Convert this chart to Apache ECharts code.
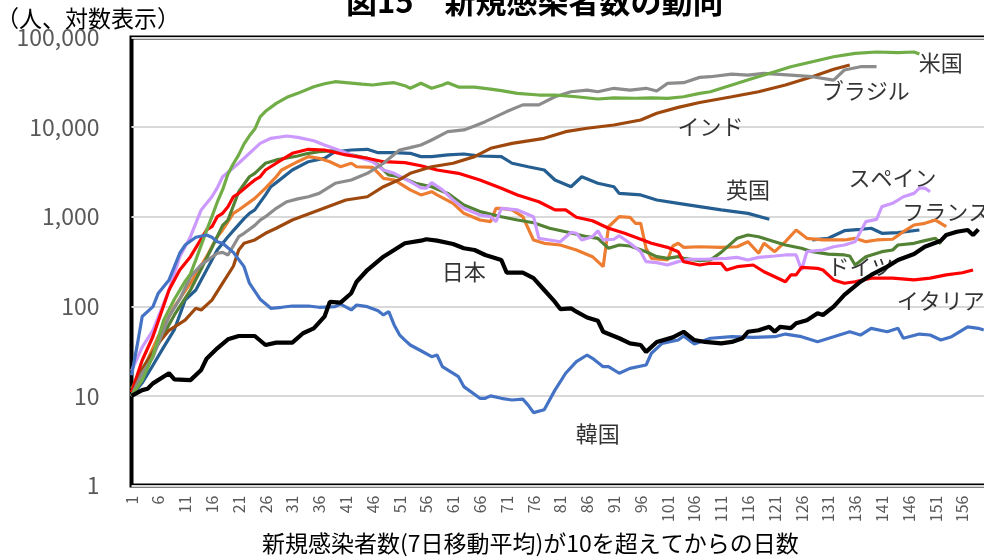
<!DOCTYPE html>
<html>
<head>
<meta charset="utf-8">
<title>新規感染者数の動向</title>
<style>
  html, body { margin: 0; padding: 0; background: #fff; }
  .main { width: 984px; height: 558px; }
</style>
</head>
<body>
<div class="main"></div>
<script src="https://cdn.jsdelivr.net/npm/echarts/dist/echarts.min.js"></script>
<script>
  // 横軸：新規感染者数(7日移動平均)が10を超えてからの日数
  var days = [];
  for (var i = 1; i <= 170; i++) days.push(String(i));
  var lastLabelDay = 156;

  // 縦軸の目盛（対数）
  var yTicks = [1, 10, 100, 1000, 10000, 100000];

  // [日数, 人]  グラフから読み取り
  var usa = [[1,10],[3,15],[5,28],[7,70],[9,120],[11,190],[12,230],[13,330],[15,700],[16,1000],[17,1450],[18,2000],[19,3000],[20,3900],[21,4900],[22,6500],[23,8000],[24,9500],[25,13000],[26,15000],[28,18400],[30,21500],[32,23800],[35,28200],[37,30500],[39,32100],[42,31000],[44,30200],[46,29500],[48,30500],[50,31300],[52,29000],[53,27100],[55,30800],[57,27100],[59,29500],[60,31300],[62,28000],[65,27900],[68,26500],[70,25500],[73,23800],[77,22800],[80,22800],[84,21800],[88,20600],[91,21200],[95,21000],[98,21200],[101,20900],[104,21800],[107,23800],[109,24800],[113,29500],[117,35100],[121,41500],[124,47200],[128,53700],[132,61000],[136,66600],[140,68900],[144,67900],[147,68900],[148,65500]];
  var brazil = [[1,10],[3,18],[5,27],[8,77],[10,120],[12,214],[14,290],[15,320],[17,391],[18,400],[19,374],[21,598],[22,653],[24,800],[25,918],[26,1000],[28,1240],[30,1470],[32,1580],[34,1670],[36,1820],[39,2360],[42,2570],[45,3050],[48,3950],[51,5550],[53,5900],[55,6310],[57,7180],[60,8890],[63,9290],[65,10300],[67,11500],[71,14900],[74,17700],[77,17700],[80,21800],[83,24800],[86,25900],[88,24800],[91,27100],[94,25900],[97,27100],[99,25300],[101,30800],[104,31300],[107,35900],[109,36500],[113,39100],[116,38100],[119,39800],[124,38100],[128,36500],[132,33500],[134,43400],[137,47200],[140,47200]];
  var india = [[1,10],[3,19.5],[6,38.6],[8,54],[11,70],[13,95],[14,91],[16,117],[18,181],[20,280],[21,425],[22,505],[24,550],[26,653],[28,743],[31,918],[36,1190],[41,1535],[45,1670],[48,2160],[51,2600],[53,3050],[55,3320],[57,3610],[61,3950],[65,4680],[68,5800],[72,6590],[78,7500],[82,8890],[86,9700],[91,10550],[96,12000],[99,14250],[103,16600],[107,18800],[113,21800],[118,24800],[123,29500],[128,36500],[132,44200],[135,49300]];
  var uk = [[1,10],[3,14],[5,22],[7,35],[9,55],[10,80],[11,117],[13,152],[15,254],[17,425],[19,598],[20,700],[22,950],[23,1090],[24,1190],[26,1750],[27,2160],[28,2400],[31,3320],[34,4110],[37,4490],[39,5310],[42,5550],[45,5650],[47,5180],[50,5180],[53,5100],[55,4680],[57,4680],[60,4890],[63,5010],[66,4760],[70,4680],[72,3950],[75,3610],[78,3320],[80,2570],[83,2160],[85,2790],[88,2360],[91,2160],[92,1820],[96,1750],[99,1535],[103,1410],[107,1295],[111,1190],[116,1090],[120,935],[124,'-'],[128,550],[131,574],[134,698],[137,723],[139,743],[141,653],[144,663],[148,711]];
  var spain = [[1,19],[3,35],[5,54],[8,152],[10,358],[12,598],[14,1190],[16,1670],[17,2100],[18,2790],[21,3950],[25,6590],[27,7500],[30,7960],[32,7690],[35,7050],[37,6310],[40,5450],[43,4680],[46,4110],[48,3320],[50,3050],[53,2460],[55,2100],[56,2080],[57,2400],[59,1990],[61,1535],[63,1240],[66,1045],[68,1000],[69,880],[70,1240],[73,1190],[76,1000],[77,574],[79,550],[81,525],[83,670],[84,653],[85,550],[87,598],[88,698],[89,550],[91,560],[92,614],[94,505],[96,407],[97,315],[99,307],[101,289],[103,315],[105,335],[108,335],[112,343],[114,352],[116,329],[118,352],[121,364],[123,374],[125,374],[126,254],[127,407],[130,425],[132,462],[134,483],[136,526],[138,880],[140,935],[141,1295],[143,1410],[145,1670],[147,1820],[148,2080],[149,2080],[150,1900]];
  var france = [[1,12],[2,14],[6,46],[9,99],[12,181],[15,358],[17,598],[18,711],[20,1090],[21,1190],[24,1600],[26,2080],[28,2790],[29,3320],[32,4110],[34,4680],[36,4490],[38,4110],[40,3610],[42,3950],[43,3610],[46,3560],[48,2680],[50,2570],[53,1990],[55,1750],[57,1900],[58,1750],[61,1410],[63,1090],[66,918],[68,880],[69,1240],[70,1240],[72,1190],[74,1000],[76,550],[78,505],[81,483],[84,425],[87,358],[89,277],[90,773],[92,1000],[94,985],[95,844],[96,844],[97,444],[98,343],[101,329],[102,471],[103,505],[104,455],[107,462],[111,455],[114,462],[116,526],[118,391],[119,505],[121,407],[123,526],[125,711],[127,574],[130,550],[134,550],[136,574],[138,526],[140,550],[143,560],[145,680],[147,808],[149,844],[151,918],[153,773]];
  var germany = [[1,12],[3,20],[6,38],[9,80],[12,152],[14,260],[16,450],[18,800],[19,918],[21,1900],[23,2790],[24,3050],[26,3950],[28,4300],[32,4760],[34,5100],[36,5310],[39,5450],[42,4890],[45,4490],[47,3780],[49,2920],[51,2800],[54,2360],[57,2160],[60,1820],[63,1350],[66,1140],[70,1000],[73,918],[76,857],[79,743],[82,680],[86,598],[88,574],[90,444],[92,483],[94,471],[97,407],[99,358],[101,343],[103,358],[104,343],[107,323],[109,329],[111,400],[113,510],[114,574],[116,625],[118,598],[121,526],[123,483],[126,444],[128,407],[131,383],[134,374],[135,364],[136,289],[138,358],[141,407],[143,425],[144,483],[147,505],[149,540],[151,574],[152,496]];
  var italy = [[1,11],[3,25],[5,46],[8,152],[10,254],[12,358],[15,711],[16,773],[17,1000],[18,1090],[19,1295],[20,1670],[21,1820],[23,2300],[24,2570],[25,2790],[26,3320],[28,3950],[29,4300],[31,5100],[34,5650],[37,5550],[41,4890],[45,4490],[48,4110],[52,4010],[55,3700],[58,3320],[62,3050],[66,2570],[70,2080],[73,1750],[77,1470],[80,1190],[82,1190],[84,985],[87,902],[90,743],[93,653],[96,560],[98,505],[101,455],[103,407],[104,315],[107,289],[109,302],[111,302],[112,254],[114,277],[117,289],[119,243],[121,214],[123,188],[124,224],[125,224],[126,272],[129,265],[130,254],[132,197],[134,181],[136,188],[139,206],[143,206],[147,197],[150,206],[153,224],[156,237],[158,254]];
  var japan = [[1,10],[3,11.6],[4,12],[5,13.8],[8,17.9],[9,15.3],[12,15],[14,19.5],[15,26],[17,34],[19,42.8],[21,46.6],[24,46.6],[26,37],[28,39.3],[31,39.3],[33,50],[35,56.8],[37,76.6],[38,112],[40,110],[42,140],[43,188],[45,254],[48,358],[50,425],[52,505],[55,540],[56,560],[58,540],[61,496],[63,444],[65,425],[67,374],[70,329],[71,237],[74,237],[76,206],[78,152],[80,112],[81,93],[83,95],[84,87],[86,75],[88,69],[89,52],[92,44],[94,38.6],[96,37],[97,31],[99,40],[102,45],[104,52],[106,42],[108,40],[111,38.6],[113,40],[115,44],[116,52],[118,54],[120,59],[121,52],[122,59],[124,57],[125,64.6],[127,70],[129,83.5],[130,80],[132,99],[134,134],[137,188],[139,224],[142,277],[144,329],[147,383],[149,462],[152,540],[153,625],[155,680],[157,711],[158,625],[159,723]];
  var korea = [[1,17],[2,35],[3,77],[5,99],[6,140],[8,197],[9,277],[10,391],[11,483],[13,590],[15,625],[16,589],[17,526],[18,505],[20,400],[22,277],[23,181],[25,120],[27,95],[29,97.5],[31,100.7],[34,100.7],[36,97.5],[39,99],[40,106],[42,91],[43,103.5],[45,99],[47,89],[48,80],[49,87],[50,62],[51,48],[52,42],[53,37],[55,31.9],[57,27.4],[58,28.6],[59,21.2],[62,16.4],[63,12.7],[66,9.4],[67,9.4],[68,10],[70,9.4],[72,9],[74,9.2],[75,7.9],[76,6.5],[78,7],[80,11.6],[82,17.9],[84,24.1],[86,28.6],[87,26.3],[89,21.2],[90,21.2],[92,17.9],[94,20.3],[97,22.1],[98,29.9],[100,38.6],[103,42],[104,46.6],[106,38],[109,44],[113,45.8],[117,45],[121,45.8],[123,49],[126,45.8],[129,40.3],[132,45.8],[135,52],[137,47.8],[139,56.8],[142,52],[144,56.8],[145,44],[148,49],[150,47.8],[152,42],[154,45.8],[157,59],[159,56.8],[160,54.4]];

  // 国名ラベルの位置 [日数, 人]
  var labelNames = ['米国', 'ブラジル', 'インド', '英国', 'スペイン', 'フランス', 'ドイツ', 'イタリア', '日本', '韓国'];
  var labelDays = [152, 138, 109, 116, 143, 153, 137, 152, 63, 88];
  var labelValues = [51900, 25300, 10100, 1990, 2740, 1130, 277, 117, 243, 3.8];

  var countries = [
    { name: '英国', data: uk, color: '#255E91', width: 3.2 },
    { name: 'フランス', data: france, color: '#ED7D31', width: 3.2 },
    { name: 'ドイツ', data: germany, color: '#548235', width: 3.2 },
    { name: 'スペイン', data: spain, color: '#CC99FF', width: 3.2 },
    { name: 'イタリア', data: italy, color: '#FF0000', width: 3.2 },
    { name: 'インド', data: india, color: '#9E480E', width: 3.2 },
    { name: 'ブラジル', data: brazil, color: '#8C8C8C', width: 3.2 },
    { name: '米国', data: usa, color: '#70AD47', width: 3.2 },
    { name: '韓国', data: korea, color: '#4472C4', width: 3.2 },
    { name: '日本', data: japan, color: '#000000', width: 4.2 }
  ];

  var jp = "'Noto Sans CJK JP', sans-serif";

  var series = countries.map(function (c) {
    return {
      name: c.name,
      type: 'line',
      showSymbol: false,
      symbol: 'none',
      connectNulls: false,
      lineStyle: { color: c.color, width: c.width },
      data: c.data.map(function (p) { return [String(p[0]), p[1]]; })
    };
  });

  series.push({
    name: 'labels',
    type: 'scatter',
    symbolSize: 1,
    itemStyle: { color: 'rgba(0,0,0,0)' },
    label: {
      show: true,
      position: 'inside',
      formatter: function (p) { return p.name; },
      color: '#000',
      fontSize: 22,
      fontFamily: jp
    },
    data: labelNames.map(function (n, k) {
      return { name: n, value: [String(labelDays[k]), labelValues[k]] };
    })
  });

  var myChart = echarts.init(document.querySelector('.main'));
  myChart.setOption({
    animation: false,
    backgroundColor: '#fff',
    grid: {
      left: 131.5,
      top: 37.5,
      width: 169 * 5.36,
      height: 448,
      outerBoundsMode: 'none',
      containLabel: false,
      show: true,
      borderColor: '#000',
      borderWidth: 4,
      backgroundColor: 'transparent'
    },
    xAxis: {
      type: 'category',
      data: days,
      boundaryGap: false,
      axisLine: { show: false },
      axisTick: { show: false },
      splitLine: { show: false },
      axisLabel: {
        // 5日ごと（1, 6, 11, …, 156）
        interval: function (idx) { return idx % 5 === 0 && idx < lastLabelDay; },
        rotate: 90,
        margin: 10,
        color: '#595959',
        fontSize: 16,
        fontFamily: jp
      }
    },
    yAxis: {
      type: 'log',
      logBase: 10,
      min: yTicks[0],
      max: yTicks[yTicks.length - 1],
      splitNumber: 5,
      axisLine: { show: false },
      axisTick: { show: false },
      splitLine: { lineStyle: { color: '#D9D9D9', width: 2 } },
      axisLabel: {
        margin: 32,
        color: '#595959',
        fontSize: 23,
        fontFamily: jp,
        formatter: function (v) { return Math.round(v).toLocaleString('en-US'); }
      }
    },
    graphic: [
      {
        type: 'text',
        left: 536 - 190,
        top: -14,
        style: {
          text: '図15　新規感染者数の動向',
          font: 'bold 31px ' + jp,
          fill: '#000'
        }
      },
      {
        type: 'text',
        left: -4,
        top: 7,
        style: {
          text: '（人、対数表示）',
          font: '23px ' + jp,
          fill: '#000'
        }
      },
      {
        type: 'text',
        left: 262,
        top: 532,
        style: {
          text: '新規感染者数(7日移動平均)が10を超えてからの日数',
          font: '23px ' + jp,
          fill: '#000'
        }
      }
    ],
    series: series
  });
</script>
</body>
</html>
